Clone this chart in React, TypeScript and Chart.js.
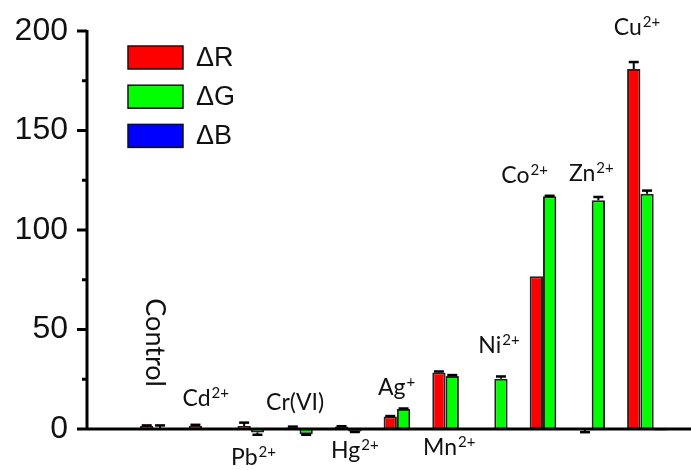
import React, { useEffect, useRef } from 'react';
import { Chart, registerables } from 'chart.js';

Chart.register(...registerables);

// ---- data ----
const categories = ['', 'Control', 'Cd', 'Pb', 'Cr(VI)', 'Hg', 'Ag', 'Mn', 'Ni', 'Co', 'Zn', 'Cu'];
const seriesNames = ['ΔR', 'ΔG', 'ΔB'];
const deltaR = [null, 1.5, 1.5, 1.5, 0.8, 1.2, 6.3, 28.4, 0, 76.7, -0.3, 180.9];
const deltaG = [null, 0.5, 0, -1.7, -2.6, -1.3, 10, 26.6, 25.3, 116.9, 114.9, 118.2];
const deltaB = [null, 0, 0, 0, 0, 0, 0, 0, 0, 0, 0, -0.8];
const errR = [0, 0.3, 0.6, 1.7, 0.4, 0.2, 0.2, 0.5, 0, 0, 1.3, 3.5];
const errG = [0, 1.3, 0, 1.2, 0.3, 0.2, 0.3, 0.5, 1.1, 0.3, 1.7, 1.6];
const errB = [0, 0, 0, 0, 0, 0, 0, 0, 0, 0, 0, 0];
const yTicks = [0, 25, 50, 75, 100, 125, 150, 175, 200];

// ion labels (annotation text)
const ionMain = ['Control', 'Cd', 'Pb', 'Cr(VI)', 'Hg', 'Ag', 'Mn', 'Ni', 'Co', 'Zn', 'Cu'];
const ionSup = ['', '2+', '2+', '', '2+', '+', '2+', '2+', '2+', '2+', '2+'];
const ionLabelY = [43.4, 11.7, -18, 9.7, -14.4, 17.2, -12.9, 38.3, 123.6, 124.4, 198.1];
const ionLabelDx = [-5, -3, -4, -11, 0, -7, -3, -2, -25, -7, -10];

const colors = ['#ff0000', '#00ff00', '#0000ff'];

export default function App() {
  const ref = useRef<HTMLCanvasElement | null>(null);

  useEffect(() => {
    if (!ref.current) return;
    const errs = [errR, errG, errB];

    const axesPlugin = {
      id: 'axesPlugin',
      afterDraw(chart: any) {
        const { ctx, chartArea } = chart;
        const y = chart.scales.y;
        const y0 = y.getPixelForValue(0);
        ctx.save();
        ctx.strokeStyle = '#000';
        ctx.lineWidth = 3;
        ctx.lineCap = 'butt';
        ctx.beginPath();
        ctx.moveTo(chartArea.left, y.getPixelForValue(200) - 1);
        ctx.lineTo(chartArea.left, y0);
        ctx.stroke();
        yTicks.forEach((v) => {
          const py = y.getPixelForValue(v);
          const len = v % 50 === 0 ? 10 : 5;
          ctx.beginPath();
          ctx.moveTo(chartArea.left - len, py);
          ctx.lineTo(chartArea.left, py);
          ctx.stroke();
        });
        ctx.beginPath();
        ctx.moveTo(chartArea.left, y0);
        ctx.lineTo(chart.width, y0);
        ctx.stroke();
        ctx.restore();
      },
    };

    const errorPlugin = {
      id: 'errorPlugin',
      afterDatasetsDraw(chart: any) {
        const { ctx } = chart;
        const y = chart.scales.y;
        ctx.save();
        ctx.strokeStyle = '#000';
        chart.data.datasets.forEach((ds: any, di: number) => {
          const meta = chart.getDatasetMeta(di);
          meta.data.forEach((el: any, i: number) => {
            const v = ds.data[i];
            const e = errs[di][i];
            if (v === null || !e) return;
            const sign = v < 0 ? -1 : 1;
            const pv = y.getPixelForValue(v);
            const pe = y.getPixelForValue(v + sign * e);
            ctx.lineWidth = 2;
            ctx.beginPath();
            ctx.moveTo(el.x, pv);
            ctx.lineTo(el.x, pe);
            ctx.stroke();
            ctx.lineWidth = 2.5;
            ctx.beginPath();
            ctx.moveTo(el.x - 5, pe);
            ctx.lineTo(el.x + 5, pe);
            ctx.stroke();
          });
        });
        ctx.restore();
      },
    };

    const labelPlugin = {
      id: 'labelPlugin',
      afterDraw(chart: any) {
        const { ctx } = chart;
        const x = chart.scales.x;
        const y = chart.scales.y;
        ctx.save();
        ctx.fillStyle = '#111';
        ionMain.forEach((txt, i) => {
          const cx = x.getPixelForValue(i + 1) + ionLabelDx[i];
          const py = y.getPixelForValue(ionLabelY[i]);
          if (i === 0) {
            ctx.save();
            ctx.translate(cx, py);
            ctx.rotate(Math.PI / 2);
            ctx.font = '27px Lato';
            ctx.textAlign = 'center';
            ctx.textBaseline = 'middle';
            ctx.fillText(txt, 0, 0);
            ctx.restore();
            return;
          }
          ctx.font = '23px Lato';
          const w1 = ctx.measureText(txt).width;
          ctx.font = '15px Lato';
          const w2 = ionSup[i] ? ctx.measureText(ionSup[i]).width + 1 : 0;
          const start = cx - (w1 + w2) / 2;
          ctx.textAlign = 'left';
          ctx.textBaseline = 'alphabetic';
          ctx.font = '23px Lato';
          ctx.fillText(txt, start, py);
          if (ionSup[i]) {
            ctx.font = '15px Lato';
            ctx.fillText(ionSup[i], start + w1 + 1, py - 8);
          }
        });
        ctx.restore();
      },
    };

    const legendPlugin = {
      id: 'legendPlugin',
      afterDraw(chart: any) {
        const { ctx } = chart;
        ctx.save();
        chart.data.datasets.forEach((ds: any, i: number) => {
          const top = 46 + i * 39.2;
          ctx.fillStyle = ds.backgroundColor;
          ctx.fillRect(128, top, 55, 23);
          ctx.strokeStyle = '#111';
          ctx.lineWidth = 1.5;
          ctx.strokeRect(128, top, 55, 23);
          ctx.fillStyle = '#111';
          ctx.font = '27px "Liberation Sans"';
          ctx.textAlign = 'left';
          ctx.textBaseline = 'middle';
          ctx.fillText(ds.label, 196, top + 12.5);
        });
        ctx.restore();
      },
    };

    const chart = new Chart(ref.current, {
      type: 'bar',
      data: {
        labels: categories,
        datasets: [deltaR, deltaG, deltaB].map((d, i) => ({
          label: seriesNames[i],
          data: d,
          backgroundColor: colors[i],
          borderColor: '#222',
          borderWidth: 2,
          categoryPercentage: 0.82,
          barPercentage: 1,
          clip: false as any,
        })),
      },
      options: {
        animation: false,
        responsive: false,
        layout: { padding: { top: 31, bottom: 41, left: 0, right: 19.6 } },
        plugins: { legend: { display: false }, tooltip: { enabled: false } },
        scales: {
          x: { display: false, offset: true },
          y: {
            min: 0,
            max: 200,
            afterFit: (s: any) => {
              s.width = 87;
              s.paddingTop = 0;
              s.paddingBottom = 0;
            },
            afterBuildTicks: (s: any) => {
              s.ticks = yTicks.map((v) => ({ value: v }));
            },
            ticks: {
              autoSkip: false,
              padding: 19,
              color: '#111',
              font: { family: '"Liberation Sans"', size: 32 },
              callback: (v: any) => (Number(v) % 50 === 0 ? String(v) : ''),
            },
            grid: { display: false, drawTicks: false },
            border: { display: false },
          },
        },
      },
      plugins: [errorPlugin, axesPlugin, labelPlugin, legendPlugin],
    });
    return () => chart.destroy();
  }, []);

  return (
    <div style={{ position: 'fixed', left: 0, top: 0, width: 691, height: 470, background: '#fff' }}>
      <canvas ref={ref} width={691} height={470} style={{ display: 'block' }} />
    </div>
  );
}
